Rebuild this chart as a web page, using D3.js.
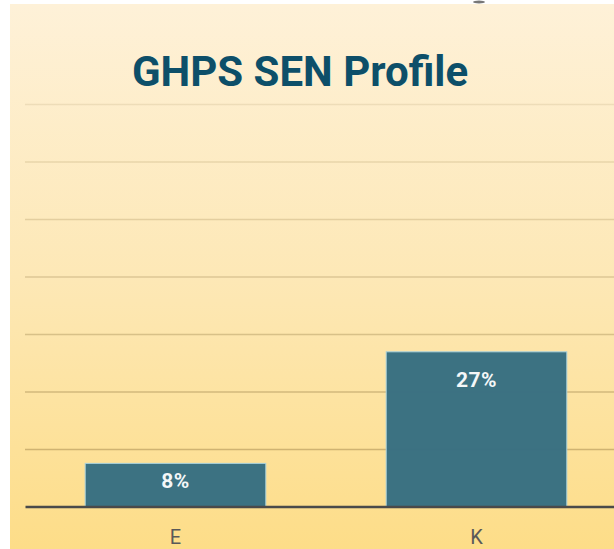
<!DOCTYPE html>
<html>
<head>
<meta charset="utf-8">
<script src="https://cdn.jsdelivr.net/npm/d3@7"></script>
<style>
	body { margin: 0; background: #ffffff; }
	svg { display: block; }
</style>
</head>
<body>
<div id="chart"></div>
<script>
// chart data
var categories = ['E', 'K'];
var percents = [7.5, 26.9];
var grid_ticks = [10, 20, 30, 40, 50, 60, 70];
var chart_title = 'GHPS SEN Profile';


/**
 * Draws the bar chart
 * @return {void} Nothing
 */
function create_chart() {
	var W = 614, H = 549;
	var left = 25, right = 627, top = 104, bottom = 506.5;

	var svg = d3.select('#chart')
		.append('svg')
		.attr('width', W)
		.attr('height', H);

	// background gradient
	var defs = svg.append('defs');
	var grad = defs.append('linearGradient')
		.attr('id', 'bg')
		.attr('x1', 0).attr('y1', 0)
		.attr('x2', 0).attr('y2', 1);
	grad.append('stop').attr('offset', '0%').attr('stop-color', '#fef1d8');
	grad.append('stop').attr('offset', '50%').attr('stop-color', '#fde8b6');
	grad.append('stop').attr('offset', '100%').attr('stop-color', '#fddd88');

	svg.append('rect')
		.attr('x', 10)
		.attr('y', 4)
		.attr('width', W - 10)
		.attr('height', H - 4)
		.style('fill', 'url(#bg)');

	// small smudge at top edge
	svg.append('ellipse')
		.attr('cx', 479)
		.attr('cy', 2)
		.attr('rx', 6)
		.attr('ry', 1.5)
		.style('fill', '#555555')
		.style('fill-opacity', 0.8);

	var x = d3.scaleBand()
		.domain(categories)
		.range([left, right])
		.paddingInner(0.4)
		.paddingOuter(0.2);

	var y = d3.scaleLinear()
		.domain([0, 70])
		.range([bottom, top]);

	// gridlines
	var grid = svg.append('g')
		.attr('class', 'grid')
		.attr('transform', 'translate(' + left + ',0)')
		.call(d3.axisLeft(y).tickValues(grid_ticks).tickSize(-(right - left)).tickFormat(''));
	grid.select('.domain').remove();
	grid.selectAll('line')
		.style('stroke', '#8a6f3a')
		.style('stroke-width', 1.6)
		.style('stroke-opacity', function(d) { return 0.45 - d * 0.0045; });

	// bars
	svg.append('g')
		.selectAll('rect')
		.data(categories)
		.enter()
		.append('rect')
			.attr('x', function(d) { return x(d); })
			.attr('y', function(d, i) { return y(percents[i]); })
			.attr('width', x.bandwidth())
			.attr('height', function(d, i) { return y(0) - y(percents[i]); })
			.style('fill', '#386f82')
			.style('fill-opacity', 0.98)
			.style('stroke', '#a9d2dc')
			.style('stroke-width', 1);

	// value labels
	svg.append('g')
		.selectAll('text')
		.data(categories)
		.enter()
		.append('text')
			.attr('x', function(d) { return x(d) + x.bandwidth() / 2; })
			.attr('y', function(d, i) {
				var t = y(percents[i]);
				return Math.min(t + 35, (t + y(0)) / 2 + 3);
			})
			.attr('text-anchor', 'middle')
			.text(function(d, i) { return Math.round(percents[i]) + '%'; })
			.style('font-family', 'Roboto, sans-serif')
			.style('font-weight', 'bold')
			.style('font-size', '21px')
			.style('letter-spacing', '0.5px')
			.style('fill', '#f4f7f8');

	// x axis
	var xaxis = svg.append('g')
		.attr('transform', 'translate(0,' + bottom + ')')
		.call(d3.axisBottom(x).tickSize(0).tickPadding(23));
	xaxis.select('.domain')
		.style('stroke', '#4a4a4a')
		.style('stroke-width', 2.6);
	xaxis.selectAll('text')
		.style('font-family', 'Roboto, sans-serif')
		.style('font-size', '20px')
		.style('fill', '#595959');

	// title
	svg.append('text')
		.attr('x', 300)
		.attr('y', 86)
		.attr('text-anchor', 'middle')
		.text(chart_title)
		.style('font-family', 'Roboto, sans-serif')
		.style('font-weight', 'bold')
		.style('font-size', '42px')
		.style('fill', '#0d4f69');
}


create_chart();
</script>
</body>
</html>
